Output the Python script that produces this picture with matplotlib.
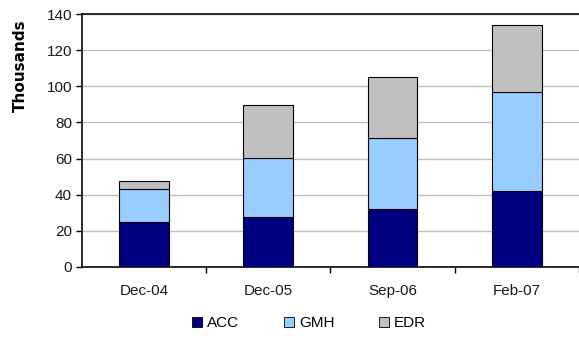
import matplotlib.pyplot as plt
from matplotlib.patches import Patch
import numpy as np

plt.rcParams['font.family'] = ['Liberation Sans', 'DejaVu Sans']

## data (thousands)
periods = ['Dec-04', 'Dec-05', 'Sep-06', 'Feb-07']
acc = [24.7, 27.5, 31.9, 42.1]
gmh = [18.3, 32.6, 39.5, 54.9]
edr = [4.4, 29.5, 33.9, 36.8]

series = [('ACC', acc, '#000080'), ('GMH', gmh, '#99CCFF'), ('EDR', edr, '#C0C0C0')]

fig = plt.figure(figsize=(5.79, 3.43), dpi=100)
ax = fig.add_axes([81.7 / 579, 1 - 267 / 343, (579 - 81.7) / 579, (267 - 14) / 343])

x = np.arange(len(periods))
bottom = np.zeros(len(periods))
for name, vals, col in series:
    ax.bar(x, vals, width=0.4, bottom=bottom, color=col, edgecolor='black', linewidth=0.8, zorder=3)
    bottom += np.array(vals)

ax.set_ylim(0, 140)
ax.set_xlim(-0.5, 3.425)
ax.set_yticks(range(0, 141, 20))
ax.yaxis.grid(True, color='#BFBFBF', linewidth=1.0, zorder=0)
ax.tick_params(axis='y', direction='out', length=4, width=1, labelsize=11, pad=3, labelcolor='#1a1a1a')

# ticks sit between the categories, labels sit under the bars
ax.set_xticks(x + 0.5, minor=False)
ax.set_xticklabels([''] * len(periods))
ax.set_xticks(x, minor=True)
ax.set_xticklabels(periods, minor=True, fontsize=11, color='#1a1a1a')
ax.tick_params(axis='x', which='major', direction='out', length=4, width=1)
ax.tick_params(axis='x', which='minor', length=0, pad=12)

for side in ['top', 'bottom', 'left']:
    ax.spines[side].set_color('#1a1a1a')
    ax.spines[side].set_linewidth(1.3)
ax.spines['right'].set_visible(False)

ax.set_ylabel('Thousands', fontsize=11, fontweight='bold', family='DejaVu Sans')
ax.yaxis.set_label_coords(-0.108, 0.794)

handles = [Patch(facecolor=c, edgecolor='black', linewidth=0.6, label=n) for n, _, c in series]
fig.legend(handles=handles, loc='center', bbox_to_anchor=(309 / 579, 1 - 323 / 343), ncol=3,
           frameon=False, fontsize=11, handlelength=0.65, handleheight=0.65,
           handletextpad=0.35, columnspacing=2.9)

fig.savefig('out.png', dpi=100)
